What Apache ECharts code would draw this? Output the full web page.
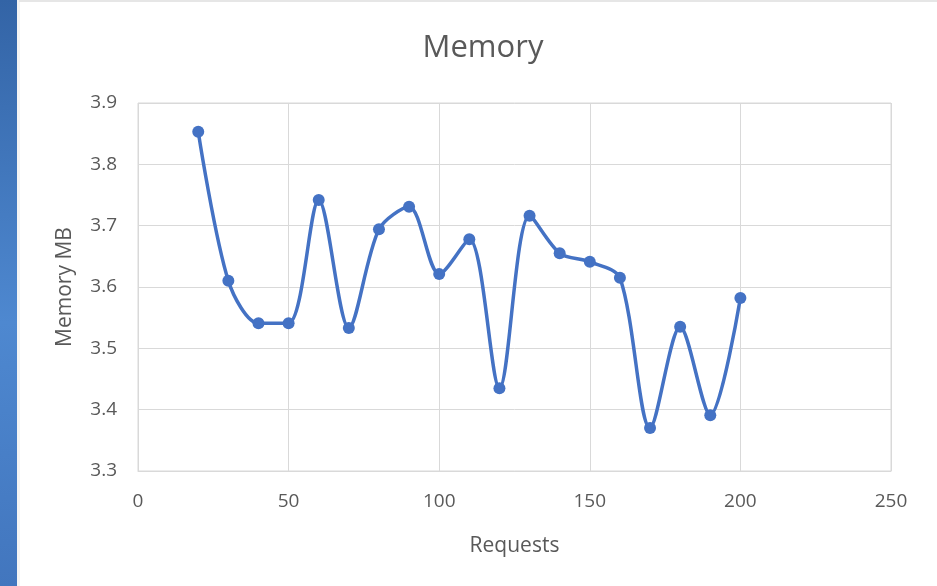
<!DOCTYPE html>
<html>
<head>
<meta charset="utf-8">
<script src="https://cdn.jsdelivr.net/npm/echarts@6/dist/echarts.min.js"></script>
<style>
html,body{margin:0;padding:0;background:#fff;}
#bar{position:absolute;left:0;top:0;width:17px;height:586px;background:linear-gradient(to bottom,#3364a6 0%,#4e88d0 55%,#4276be 100%);}
#edge{position:absolute;left:17px;top:0;width:3px;height:586px;background:#f4f4f4;}
#topline{position:absolute;left:19px;top:0;width:918px;height:2px;background:#e6e6e6;}
#chart{position:absolute;left:0;top:0;width:937px;height:586px;}
</style>
</head>
<body>
<div id="bar"></div><div id="edge"></div><div id="topline"></div>
<div id="chart"></div>
<script>
const requests = [20,30,40,50,60,70,80,90,100,110,120,130,140,150,160,170,180,190,200];
const memoryMB = [3.853,3.610,3.541,3.541,3.742,3.533,3.694,3.731,3.621,3.678,3.435,3.716,3.655,3.641,3.615,3.370,3.535,3.391,3.582];
const titleText = "Memory";
const xName = "Requests";
const yName = "Memory MB";

const chart = echarts.init(document.getElementById('chart'));
const font = "'Open Sans', sans-serif";
const gridColor = '#d9d9d9';
chart.setOption({
  animation:false,
  backgroundColor:'transparent',
  title:{text:titleText,left:478,top:28,textAlign:'center',textStyle:{fontFamily:font,fontSize:31,fontWeight:'normal',color:'#595959'}},
  grid:{left:138,right:46,top:103,bottom:115,show:true,borderColor:gridColor,borderWidth:1},
  xAxis:{type:'value',min:0,max:250,interval:50,name:xName,nameLocation:'middle',nameGap:65,
    nameTextStyle:{fontFamily:font,fontSize:21,color:'#595959'},
    axisLine:{show:true,lineStyle:{color:gridColor}},axisTick:{show:false},
    axisLabel:{margin:21,fontFamily:font,fontSize:19,color:'#595959'},
    splitLine:{show:true,lineStyle:{color:gridColor,width:1}}},
  yAxis:{type:'value',min:3.3,max:3.9,interval:0.1,name:yName,nameLocation:'middle',nameGap:62,
    nameTextStyle:{fontFamily:font,fontSize:21,color:'#595959'},
    axisLine:{show:false},axisTick:{show:false},
    axisLabel:{margin:21,fontFamily:font,fontSize:19,color:'#595959',formatter:v=>v.toFixed(1)},
    splitLine:{show:true,lineStyle:{color:gridColor,width:1}}},
  series:[{type:'line',data:requests.map((x,i)=>[x,memoryMB[i]]),smooth:0.3,
    symbol:'circle',symbolSize:12,lineStyle:{color:'#4472c4',width:3.5},
    itemStyle:{color:'#4472c4'}}]
});
</script>
</body>
</html>
